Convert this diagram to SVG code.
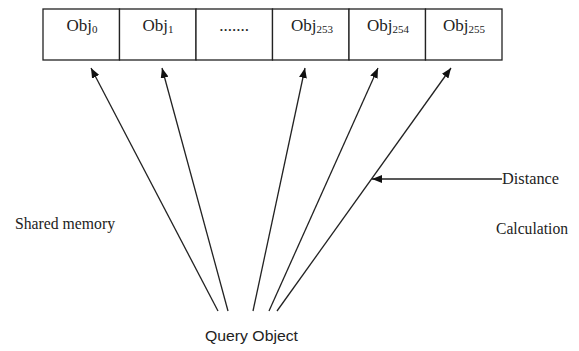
<svg xmlns="http://www.w3.org/2000/svg" width="579" height="351" viewBox="0 0 579 351">
  <style>
    .cell { fill: #fff; stroke: #222; stroke-width: 1.3; }
    .lbl { font-family: "Liberation Serif", "Times New Roman", serif; font-size: 17px; fill: #222; }
    .sub { font-size: 11px; }
    .side { font-family: "Liberation Serif", "Times New Roman", serif; font-size: 17px; fill: #222; }
    .q { font-family: "Liberation Sans", Arial, sans-serif; font-size: 15px; fill: #222; }
    .edge { stroke: #222; stroke-width: 1.3; fill: none; marker-end: url(#head); }
  </style>
  <defs>
    <marker id="head" viewBox="0 0 10 8" refX="10" refY="4" markerWidth="10" markerHeight="8" markerUnits="userSpaceOnUse" orient="auto">
      <path d="M0,0 L10,4 L0,8 z" fill="#111"/>
    </marker>
  </defs>
  <rect width="579" height="351" fill="#fff"/>

  <!-- shared memory array -->
  <g id="obj0"><rect class="cell" x="43" y="9" width="76.5" height="51"/><text class="lbl" x="82" y="31" text-anchor="middle">Obj<tspan class="sub" dy="2">0</tspan></text></g>
  <g id="obj1"><rect class="cell" x="119.5" y="9" width="76.5" height="51"/><text class="lbl" x="158" y="31" text-anchor="middle">Obj<tspan class="sub" dy="2">1</tspan></text></g>
  <g id="ellipsis"><rect class="cell" x="196" y="9" width="76.5" height="51"/><text class="lbl" x="234" y="31" text-anchor="middle" font-size="12">.......</text></g>
  <g id="obj253"><rect class="cell" x="272.5" y="9" width="76.5" height="51"/><text class="lbl" x="312" y="31" text-anchor="middle">Obj<tspan class="sub" dy="2">253</tspan></text></g>
  <g id="obj254"><rect class="cell" x="349" y="9" width="76.5" height="51"/><text class="lbl" x="388" y="31" text-anchor="middle">Obj<tspan class="sub" dy="2">254</tspan></text></g>
  <g id="obj255"><rect class="cell" x="425.5" y="9" width="76.5" height="51"/><text class="lbl" x="464" y="31" text-anchor="middle">Obj<tspan class="sub" dy="2">255</tspan></text></g>

  <!-- labels -->
  <g id="shared-memory"><text class="side" x="15" y="229" textLength="100" lengthAdjust="spacingAndGlyphs">Shared memory</text></g>
  <g id="distance-calculation">
    <text class="side" x="502" y="184" textLength="57" lengthAdjust="spacingAndGlyphs">Distance</text>
    <text class="side" x="496" y="234" textLength="72" lengthAdjust="spacingAndGlyphs">Calculation</text>
  </g>
  <g id="query-object"><text class="q" x="205" y="341" textLength="93" lengthAdjust="spacingAndGlyphs">Query Object</text></g>

  <!-- connectors -->
  <g id="connectors">
    <line class="edge" x1="218" y1="311" x2="91" y2="68"/>
    <line class="edge" x1="228" y1="311" x2="162" y2="68"/>
    <line class="edge" x1="253" y1="311" x2="305" y2="68"/>
    <line class="edge" x1="269" y1="311" x2="378" y2="68"/>
    <line class="edge" x1="277" y1="311" x2="451" y2="68"/>
    <line class="edge" x1="502" y1="179" x2="372" y2="179"/>
  </g>
</svg>
